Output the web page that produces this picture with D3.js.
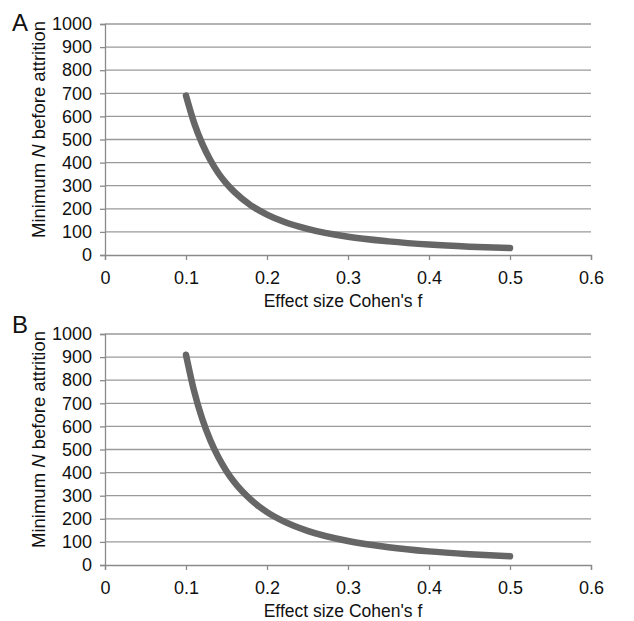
<!DOCTYPE html>
<html>
<head>
<meta charset="utf-8">
<script src="https://cdn.jsdelivr.net/npm/d3@7"></script>
<style>
  body { margin: 0; background: #fff; }
  text { font-family: "Liberation Sans", Arial, sans-serif; fill: #111; }
</style>
</head>
<body>
<svg id="chart" width="634" height="621"></svg>
<script>
// effect sizes
var effectA = [0.10, 0.11, 0.12, 0.13, 0.14, 0.15, 0.16, 0.18, 0.20, 0.22, 0.25, 0.30, 0.35, 0.40, 0.45, 0.50];
var nA = [690, 572, 482, 411, 354, 309, 272, 215, 175, 145, 113, 79, 59, 45, 36, 30];
var effectB = [0.10, 0.11, 0.12, 0.13, 0.14, 0.15, 0.16, 0.18, 0.20, 0.22, 0.25, 0.30, 0.35, 0.40, 0.45, 0.50];
var nB = [910, 753, 633, 540, 466, 406, 357, 283, 229, 190, 148, 104, 77, 59, 47, 38];
var xTicks = [0, 0.1, 0.2, 0.3, 0.4, 0.5, 0.6];
var yTicks = [0, 100, 200, 300, 400, 500, 600, 700, 800, 900, 1000];
var panelLetters = ["A", "B"];

var svg = d3.select("#chart");

function draw_panel(letter, effect, n, top, letterY) {
  var left = 105, right = 591, height = 231;
  var bottom = top + height;

  var x = d3.scaleLinear().domain([0, 0.6]).range([left, right]);
  var y = d3.scaleLinear().domain([0, 1000]).range([bottom, top]);

  var g = svg.append("g").attr("class", "panel");

  // gridlines
  g.selectAll(".grid")
    .data(yTicks.filter(function(d) { return d > 0; }))
    .enter().append("line")
      .attr("x1", left).attr("x2", right)
      .attr("y1", function(d) { return y(d); })
      .attr("y2", function(d) { return y(d); })
      .style("stroke", "#9a9a9a")
      .style("stroke-width", 1.3);

  var yAxis = d3.axisLeft(y).tickValues(yTicks).tickSize(5).tickPadding(8)
    .tickFormat(d3.format("d"));
  var xAxis = d3.axisBottom(x).tickValues(xTicks).tickSize(5).tickPadding(11)
    .tickFormat(function(d) { return d === 0 ? "0" : d3.format(".1f")(d); });

  var ya = g.append("g").attr("transform", "translate(" + left + ",0)").call(yAxis);
  var xa = g.append("g").attr("transform", "translate(0," + bottom + ")").call(xAxis);

  [ya, xa].forEach(function(a) {
    a.select(".domain").style("stroke", "#8a8a8a").style("stroke-width", 1.3);
    a.selectAll(".tick line").style("stroke", "#8a8a8a").style("stroke-width", 1.3);
    a.selectAll(".tick text").style("font-size", "18px").style("fill", "#111")
      .style("font-family", "'Liberation Sans', Arial, sans-serif");
  });

  // the curve
  var pts = effect.map(function(f, i) { return {f: f, n: n[i]}; });
  var line = d3.line()
    .x(function(d) { return x(d.f); })
    .y(function(d) { return y(d.n); })
    .curve(d3.curveMonotoneX);

  g.append("path")
    .datum(pts)
    .attr("d", line)
    .style("fill", "none")
    .style("stroke", "#666")
    .style("stroke-width", 6.5)
    .style("stroke-linecap", "round");

  // axis titles
  var yt = g.append("text")
    .attr("transform", "translate(45," + (top + height / 2 - 10) + ") rotate(-90)")
    .attr("text-anchor", "middle")
    .style("font-size", "18.5px");
  yt.append("tspan").text("Minimum ");
  yt.append("tspan").style("font-style", "italic").text("N");
  yt.append("tspan").text(" before attrition");

  g.append("text")
    .attr("x", (left + right) / 2 - 5)
    .attr("y", bottom + 52)
    .attr("text-anchor", "middle")
    .style("font-size", "17.5px")
    .text("Effect size Cohen's f");

  g.append("text")
    .attr("x", 12)
    .attr("y", letterY)
    .style("font-size", "24px")
    .text(letter);
}

draw_panel(panelLetters[0], effectA, nA, 24, 31);
draw_panel(panelLetters[1], effectB, nB, 334, 333);
</script>
</body>
</html>
